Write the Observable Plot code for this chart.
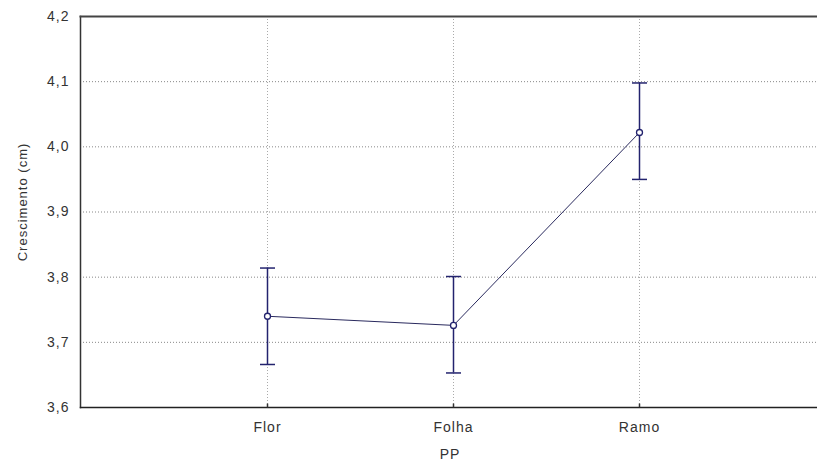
<!DOCTYPE html>
<html>
<head>
<meta charset="utf-8">
<script src="https://cdn.jsdelivr.net/npm/d3@7"></script>
<script src="https://cdn.jsdelivr.net/npm/@observablehq/plot@0.6"></script>
<style>
  html, body { margin: 0; padding: 0; background: #fff; }
  #chart svg { display: block; }
</style>
</head>
<body>
<div id="chart"></div>
<script>
// Mean growth by plant part, with confidence interval bars
const categories = ["Flor", "Folha", "Ramo"];
const means = [3.740, 3.726, 4.022];
const lower = [3.666, 3.653, 3.950];
const upper = [3.814, 3.801, 4.098];
const yTicks = [3.6, 3.7, 3.8, 3.9, 4.0, 4.1, 4.2];

const data = categories.map((c, i) => ({cat: c, mean: means[i], lo: lower[i], hi: upper[i]}));

const navy = "#23236e";
const font = "'Liberation Sans', Arial, sans-serif";

// Horizontal cap drawn at the end of each interval bar
const capSymbol = {draw(ctx) { ctx.moveTo(-7.5, 0); ctx.lineTo(7.5, 0); }};
// Short inward tick marks on the x axis
const xTickSymbol = {draw(ctx) { ctx.moveTo(0, 0); ctx.lineTo(0, -4); }};

const fmt = d => d3.format(".1f")(d).replace(".", ",");

const chart = Plot.plot({
  width: 817,
  height: 466,
  marginLeft: 80,
  marginRight: 0,
  marginTop: 16,
  marginBottom: 59,
  style: {fontFamily: font, fontSize: "14px", color: "#333", background: "#fff", letterSpacing: "1px"},
  x: {type: "point", domain: categories, range: [267, 639], padding: 0, label: null},
  y: {domain: [3.6, 4.2], label: null},
  marks: [
    Plot.gridY(yTicks.slice(1, -1), {stroke: "#888", strokeOpacity: 1, strokeDasharray: "1,2"}),
    Plot.gridX(categories, {stroke: "#aaa", strokeOpacity: 1, strokeDasharray: "1,2"}),
    Plot.frame({anchor: "left", stroke: "#333", strokeWidth: 1.5}),
    Plot.frame({anchor: "top", stroke: "#444", strokeWidth: 2}),
    Plot.frame({anchor: "bottom", stroke: "#222", strokeWidth: 1.5}),
    Plot.dot(categories, {x: d => d, y: () => 3.6, symbol: xTickSymbol, stroke: "#333", fill: "none"}),
    Plot.axisX({tickSize: 0, tickPadding: 15, fontSize: 14, fill: "#333"}),
    Plot.axisY(yTicks, {tickSize: 0, tickPadding: 11, tickFormat: fmt, fontSize: 14, fill: "#333"}),
    Plot.text(["Crescimento (cm)"], {frameAnchor: "left", textAnchor: "middle", dx: -58, dy: -10, rotate: -90, fontSize: 13, fill: "#333"}),
    Plot.text(["PP"], {frameAnchor: "bottom", dy: 51, dx: 1, fontSize: 14, fill: "#333"}),
    Plot.ruleX(data, {x: "cat", y1: "lo", y2: "hi", stroke: navy, strokeWidth: 1.5}),
    Plot.dot(data, {x: "cat", y: "hi", symbol: capSymbol, stroke: navy, strokeWidth: 1.5, fill: "none"}),
    Plot.dot(data, {x: "cat", y: "lo", symbol: capSymbol, stroke: navy, strokeWidth: 1.5, fill: "none"}),
    Plot.line(data, {x: "cat", y: "mean", stroke: "#2a2a5e", strokeWidth: 1}),
    Plot.dot(data, {x: "cat", y: "mean", r: 3, fill: "white", stroke: navy, strokeWidth: 1.3})
  ]
});

document.getElementById("chart").append(chart);
</script>
</body>
</html>
